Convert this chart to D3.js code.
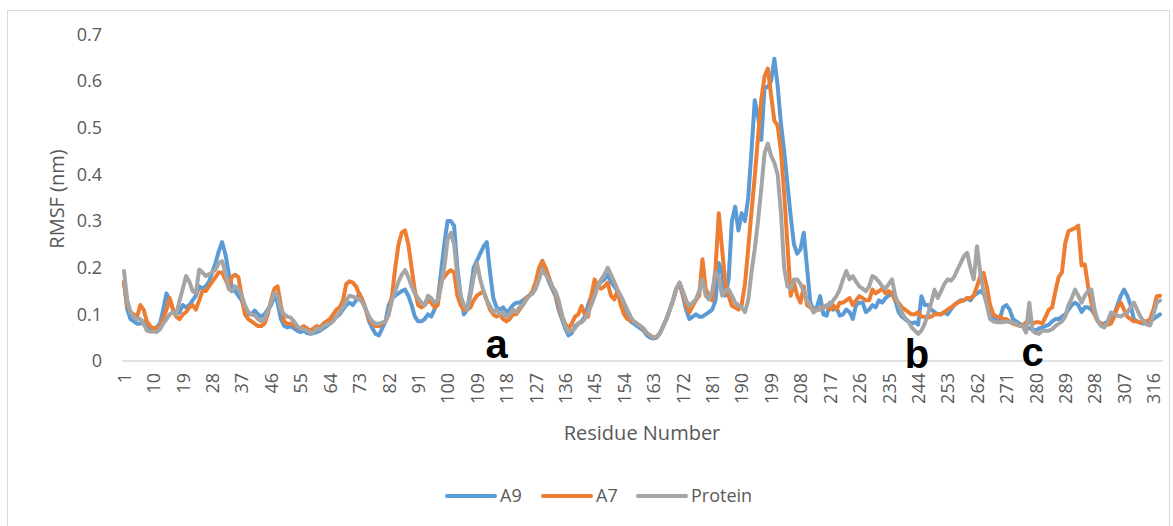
<!DOCTYPE html>
<html>
<head>
<meta charset="utf-8">
<script src="https://cdn.jsdelivr.net/npm/d3@7/dist/d3.min.js"></script>
<style>
  html, body { margin: 0; padding: 0; background: #fff; }
  svg { display: block; }
  text { font-family: "Open Sans", "Noto Sans", sans-serif; }
</style>
</head>
<body>
<svg id="chart" width="1173" height="526"></svg>
<script>
// ---- data ----
const seriesNames = ["A9", "A7", "Protein"];
const seriesColors = ["#5B9BD5", "#ED7D31", "#A5A5A5"];
const tickLabels = [1,10,19,28,37,46,55,64,73,82,91,100,109,118,127,136,145,154,163,172,181,190,199,208,217,226,235,244,253,262,271,280,289,298,307,316];
const yTicks = [0, 0.1, 0.2, 0.3, 0.4, 0.5, 0.6, 0.7];

const a9 = [
.17,.11,.09,.085,.08,.08,.085,.075,.07,.07,
.072,.08,.11,.145,.13,.11,.1,.105,.12,.115,
.12,.13,.14,.16,.155,.16,.17,.19,.21,.235,
.255,.23,.19,.16,.15,.14,.13,.11,.1,.1,
.108,.1,.095,.1,.11,.12,.14,.125,.09,.075,
.072,.075,.07,.065,.062,.065,.06,.058,.06,.062,
.065,.07,.075,.08,.088,.095,.1,.11,.12,.125,
.12,.13,.145,.13,.11,.085,.07,.058,.055,.07,
.085,.12,.135,.14,.145,.15,.153,.14,.12,.095,
.085,.085,.09,.1,.095,.11,.13,.19,.25,.3,
.3,.29,.2,.14,.1,.11,.15,.2,.215,.23,
.245,.255,.19,.135,.115,.11,.115,.105,.11,.12,
.125,.125,.13,.135,.14,.145,.16,.19,.215,.19,
.17,.155,.14,.11,.09,.07,.055,.06,.075,.08,
.085,.095,.12,.14,.155,.16,.17,.175,.185,.17,
.16,.15,.13,.115,.1,.085,.08,.075,.07,.065,
.055,.05,.048,.05,.06,.075,.09,.11,.13,.155,
.165,.14,.11,.09,.095,.1,.095,.095,.1,.105,
.11,.13,.21,.19,.14,.175,.3,.331,.28,.317,
.3,.35,.45,.559,.524,.474,.587,.587,.6,.648,
.59,.51,.45,.38,.31,.25,.23,.24,.275,.2,
.125,.11,.115,.139,.1,.097,.125,.11,.115,.097,
.1,.11,.105,.09,.12,.125,.125,.105,.11,.12,
.115,.13,.125,.135,.14,.146,.13,.105,.095,.09,
.085,.08,.083,.078,.139,.12,.12,.11,.105,.1,
.1,.105,.1,.11,.12,.125,.13,.13,.135,.13,
.14,.145,.15,.145,.125,.1,.095,.085,.09,.115,
.12,.11,.09,.085,.08,.076,.07,.07,.068,.065,
.07,.072,.075,.078,.085,.09,.09,.095,.1,.11,
.12,.125,.12,.105,.115,.115,.11,.1,.085,.08,
.08,.085,.085,.1,.12,.14,.153,.14,.12,.09,
.085,.082,.08,.082,.085,.09,.095,.1
];

const a7 = [
.17,.12,.105,.1,.095,.12,.11,.085,.075,.07,
.07,.075,.09,.11,.135,.11,.095,.09,.1,.105,
.115,.12,.11,.13,.15,.15,.16,.17,.18,.19,
.19,.175,.16,.18,.185,.18,.14,.1,.09,.085,
.08,.075,.075,.08,.1,.13,.155,.16,.12,.085,
.08,.08,.078,.072,.07,.075,.07,.065,.07,.075,
.072,.08,.085,.09,.1,.11,.115,.13,.165,.171,
.168,.16,.143,.13,.11,.09,.08,.075,.075,.08,
.085,.1,.14,.2,.25,.275,.28,.25,.2,.15,
.12,.115,.12,.13,.125,.115,.12,.17,.18,.189,
.195,.19,.14,.12,.11,.11,.115,.13,.14,.145,
.15,.13,.11,.1,.095,.1,.09,.085,.09,.1,
.1,.11,.12,.135,.14,.15,.17,.2,.214,.2,
.18,.16,.145,.12,.095,.08,.07,.08,.095,.1,
.118,.1,.095,.14,.175,.16,.155,.16,.168,.14,
.132,.15,.12,.1,.09,.088,.085,.08,.075,.068,
.06,.055,.05,.052,.06,.075,.09,.11,.13,.155,
.168,.145,.12,.104,.118,.13,.14,.218,.154,.14,
.13,.2,.317,.24,.168,.14,.118,.115,.11,.12,
.165,.24,.32,.395,.48,.56,.61,.627,.57,.515,
.505,.45,.36,.25,.14,.168,.14,.125,.16,.12,
.115,.11,.11,.112,.115,.12,.11,.12,.11,.125,
.125,.13,.135,.12,.13,.139,.135,.13,.13,.153,
.145,.15,.155,.145,.15,.145,.13,.125,.115,.11,
.105,.1,.1,.105,.095,.095,.093,.095,.1,.1,
.1,.105,.11,.115,.12,.125,.128,.13,.135,.135,
.14,.16,.182,.189,.16,.12,.1,.095,.095,.09,
.09,.085,.08,.078,.075,.076,.083,.083,.08,.083,
.083,.08,.095,.11,.115,.15,.18,.19,.253,.278,
.282,.285,.29,.205,.207,.16,.125,.1,.085,.08,
.076,.078,.08,.095,.115,.125,.11,.095,.09,.085,
.085,.082,.085,.085,.09,.11,.139,.14
];

const protein = [
.193,.13,.105,.095,.09,.09,.08,.065,.063,.063,
.062,.068,.08,.09,.1,.105,.1,.13,.155,.182,
.17,.15,.145,.196,.19,.182,.186,.19,.196,.21,
.214,.19,.155,.149,.16,.155,.14,.12,.105,.1,
.098,.09,.085,.09,.105,.125,.146,.14,.11,.1,
.095,.093,.085,.075,.07,.068,.065,.06,.062,.07,
.068,.075,.078,.08,.085,.095,.105,.115,.13,.14,
.138,.135,.132,.125,.11,.095,.085,.08,.08,.082,
.085,.1,.13,.15,.17,.185,.195,.18,.16,.145,
.135,.125,.12,.14,.135,.125,.13,.16,.2,.26,
.275,.25,.18,.14,.12,.11,.14,.18,.21,.175,
.15,.13,.118,.105,.11,.1,.105,.095,.1,.11,
.105,.115,.12,.13,.14,.145,.155,.175,.196,.185,
.175,.16,.15,.13,.1,.075,.062,.065,.07,.08,
.083,.09,.104,.12,.139,.16,.175,.185,.2,.185,
.17,.153,.14,.125,.11,.095,.085,.08,.075,.07,
.06,.055,.05,.052,.06,.075,.09,.11,.13,.155,
.168,.15,.13,.118,.125,.132,.15,.175,.14,.132,
.15,.19,.18,.14,.15,.154,.14,.125,.12,.115,
.105,.13,.19,.24,.3,.37,.445,.466,.44,.425,
.4,.32,.2,.16,.155,.175,.175,.165,.15,.13,
.118,.104,.11,.11,.115,.118,.12,.13,.139,.153,
.175,.193,.175,.182,.17,.16,.155,.15,.16,.182,
.178,.17,.16,.155,.165,.175,.14,.12,.104,.092,
.085,.072,.065,.058,.065,.08,.1,.125,.153,.135,
.15,.165,.175,.172,.18,.196,.21,.225,.232,.2,
.175,.246,.19,.15,.12,.09,.085,.083,.083,.083,
.085,.083,.083,.08,.076,.075,.061,.125,.065,.06,
.058,.065,.065,.065,.068,.075,.08,.085,.095,.12,
.135,.153,.14,.125,.14,.15,.153,.11,.085,.075,
.072,.085,.104,.1,.097,.095,.1,.104,.115,.125,
.11,.095,.085,.078,.076,.1,.125,.13
];

const annotationLabels = ["a", "b", "c"];
const annotationResidues = [115, 243.6, 279];
const annotationValues = [0.006, -0.015, -0.011];

// ---- layout ----
const svg = d3.select("#chart");
const W = 1173, H = 526;
const plot = { left: 124, right: 1160, top: 34.5, bottom: 361 };

svg.append("rect").attr("x", 0).attr("y", 0).attr("width", W).attr("height", H).attr("fill", "#fff");
svg.append("rect").attr("x", 7.5).attr("y", 10.5).attr("width", 1162).attr("height", 520)
  .attr("fill", "none").attr("stroke", "#d9d9d9").attr("stroke-width", 1);

const nRes = a9.length;
const residues = d3.range(1, nRes + 1);

const x = d3.scaleLinear().domain([1, nRes]).range([plot.left, plot.right]);
const y = d3.scaleLinear().domain([0, 0.7]).range([plot.bottom, plot.top]);

// axis baseline
svg.append("line")
  .attr("x1", x(1) - 2).attr("x2", x(nRes) + 3)
  .attr("y1", y(0)).attr("y2", y(0))
  .attr("stroke", "#d9d9d9").attr("stroke-width", 1.3);

// y axis labels
const yAxis = svg.append("g").attr("transform", `translate(${plot.left - 14},0)`)
  .call(d3.axisLeft(y).tickValues(yTicks).tickSize(0).tickPadding(8)
    .tickFormat(d => d === 0 ? "0" : d3.format(".1f")(d)));
yAxis.select(".domain").remove();
yAxis.selectAll("text").attr("fill", "#595959").style("font-size", "18px")
  .style("font-family", '"Open Sans", sans-serif');

// x axis labels (rotated)
const xAxis = svg.append("g").attr("transform", `translate(0,${y(0)})`)
  .call(d3.axisBottom(x).tickValues(tickLabels).tickSize(0));
xAxis.select(".domain").remove();
xAxis.selectAll("text")
  .attr("y", 0).attr("x", -12).attr("dy", "0.35em")
  .attr("transform", "rotate(-90)")
  .style("text-anchor", "end")
  .attr("fill", "#595959").style("font-size", "18px")
  .style("font-family", '"Open Sans", sans-serif');

// axis titles
svg.append("text").attr("x", 642).attr("y", 440)
  .attr("text-anchor", "middle").attr("fill", "#595959")
  .style("font-size", "20px").text("Residue Number");
svg.append("text").attr("transform", "translate(64,199) rotate(-90)")
  .attr("text-anchor", "middle").attr("fill", "#595959")
  .style("font-size", "20px").text("RMSF (nm)");

// series lines
const allSeries = [a9, a7, protein];
const line = d3.line().x((d, i) => x(residues[i])).y(d => y(d));
allSeries.forEach((s, k) => {
  svg.append("path").datum(s)
    .attr("fill", "none")
    .attr("stroke", seriesColors[k])
    .attr("stroke-width", 4)
    .attr("stroke-linejoin", "round")
    .attr("stroke-linecap", "round")
    .attr("d", line);
});

// annotations
annotationLabels.forEach((t, i) => {
  svg.append("text")
    .attr("x", x(annotationResidues[i])).attr("y", y(annotationValues[i]))
    .attr("text-anchor", "middle")
    .style("font-family", '"Liberation Sans", Arial, sans-serif')
    .style("font-weight", "bold").style("font-size", "40px")
    .attr("fill", "#000").text(t);
});

// legend
const legendX = [447, 543, 638];
const legend = svg.append("g");
seriesNames.forEach((n, k) => {
  legend.append("line")
    .attr("x1", legendX[k]).attr("x2", legendX[k] + 48)
    .attr("y1", 496).attr("y2", 496)
    .attr("stroke", seriesColors[k]).attr("stroke-width", 4).attr("stroke-linecap", "round");
  legend.append("text")
    .attr("x", legendX[k] + 53).attr("y", 502)
    .attr("fill", "#595959").style("font-size", "18px").text(n);
});
</script>
</body>
</html>
